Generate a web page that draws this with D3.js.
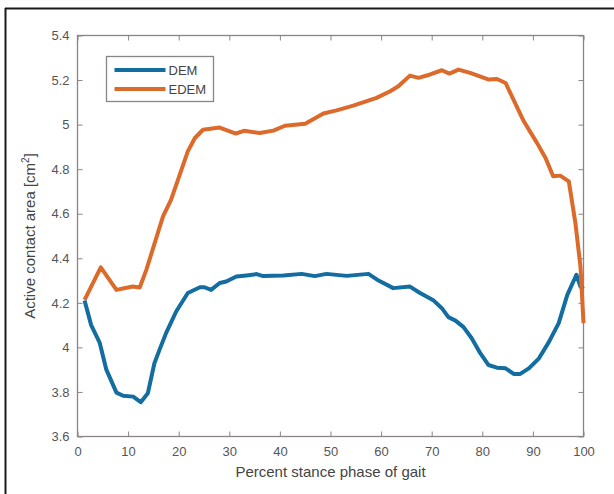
<!DOCTYPE html>
<html>
<head>
<meta charset="utf-8">
<script src="https://cdn.jsdelivr.net/npm/d3@7"></script>
<style>
  body { margin: 0; background: #fff; }
  svg text { font-family: "Liberation Sans", Arial, sans-serif; }
</style>
</head>
<body>
<div id="my_dataviz"></div>
<script>
// data
var demX  = [1.4, 2.7, 4.4, 5.7, 7.7, 9, 11, 12.5, 13.9, 15.2, 16.2, 17.5, 19.5, 21.8, 24.2, 25.1, 26.4, 28.1, 29.4, 31.4, 33.4, 35.4, 36.7, 40.7, 44.3, 46.9, 49.2, 53.2, 57.5, 59.5, 62.4, 65.7, 67.7, 70.4, 72, 73.3, 74.7, 76.3, 77.9, 79.6, 81.2, 82.9, 84.6, 86.2, 87.5, 89.2, 91.2, 93.2, 95.1, 96.8, 98.6, 99.4, 100];
var demY  = [4.21, 4.10, 4.02, 3.90, 3.797, 3.783, 3.779, 3.754, 3.794, 3.929, 3.989, 4.064, 4.161, 4.244, 4.27, 4.27, 4.258, 4.289, 4.296, 4.318, 4.323, 4.329, 4.32, 4.323, 4.33, 4.32, 4.33, 4.321, 4.33, 4.30, 4.266, 4.273, 4.244, 4.21, 4.176, 4.136, 4.12, 4.091, 4.041, 3.974, 3.921, 3.909, 3.906, 3.881, 3.881, 3.906, 3.951, 4.026, 4.109, 4.236, 4.326, 4.273, 4.263];
var edemX = [1.4, 4.6, 7.7, 10.9, 12.3, 13.6, 16.9, 18.5, 21.8, 23.2, 24.8, 28.1, 31.3, 32.9, 36, 38.7, 41, 45, 48.6, 51.2, 54.5, 59.1, 61.8, 63.4, 65.7, 67.4, 69.7, 72, 73.5, 75.3, 77.6, 81.3, 82.9, 84.6, 88.2, 90.8, 92.5, 94, 95.4, 97.1, 98.4, 99.4, 100];
var edemY = [4.213, 4.359, 4.258, 4.273, 4.269, 4.348, 4.588, 4.663, 4.88, 4.94, 4.977, 4.987, 4.96, 4.972, 4.962, 4.973, 4.995, 5.004, 5.05, 5.064, 5.085, 5.12, 5.15, 5.172, 5.22, 5.21, 5.225, 5.244, 5.229, 5.247, 5.232, 5.202, 5.205, 5.187, 5.015, 4.918, 4.85, 4.768, 4.771, 4.745, 4.558, 4.363, 4.109];
var seriesNames = ["DEM", "EDEM"];
var xTicks = [0, 10, 20, 30, 40, 50, 60, 70, 80, 90, 100];
var yTicks = [3.6, 3.8, 4, 4.2, 4.4, 4.6, 4.8, 5, 5.2, 5.4];

var W = 614, H = 494;
var margin = {top: 35.5, right: 30.5, bottom: 57.5, left: 77.5},
    width = W - margin.left - margin.right,
    height = H - margin.top - margin.bottom;

var color = d3.scaleOrdinal().domain(seriesNames).range(["#146da0", "#dc6a2b"]);
var axisColor = "#8a8585";

var root = d3.select("#my_dataviz").append("svg")
    .attr("width", W).attr("height", H);

// figure frame (only left and top edges visible in the crop)
root.append("line").attr("x1", 5.5).attr("x2", 5.5).attr("y1", 8).attr("y2", H)
    .style("stroke", "#1a1a1a").style("stroke-width", 2);
root.append("line").attr("x1", 5).attr("x2", W).attr("y1", 8.5).attr("y2", 8.5)
    .style("stroke", "#1a1a1a").style("stroke-width", 2);

var svg = root.append("g")
    .attr("transform", "translate(" + margin.left + "," + margin.top + ")");

var x = d3.scaleLinear().domain([0, 100]).range([0, width]);
var y = d3.scaleLinear().domain([3.6, 5.4]).range([height, 0]);

// axes, MATLAB style: ticks inside, box on
function styleAxis(g, labels) {
    g.select(".domain").remove();
    g.selectAll(".tick line").style("stroke", axisColor);
    if (labels) {
        g.selectAll(".tick text").style("fill", "#555").style("font-size", "13px");
    } else {
        g.selectAll(".tick text").remove();
    }
}
svg.append("g").attr("transform", "translate(0," + height + ")")
    .call(d3.axisBottom(x).tickValues(xTicks).tickSize(-5).tickPadding(10))
    .call(function(g) { styleAxis(g, true); });
svg.append("g")
    .call(d3.axisTop(x).tickValues(xTicks).tickSize(-5))
    .call(function(g) { styleAxis(g, false); });
svg.append("g")
    .call(d3.axisLeft(y).tickValues(yTicks).tickSize(-5).tickPadding(8).tickFormat(d3.format("")))
    .call(function(g) { styleAxis(g, true); });
svg.append("g").attr("transform", "translate(" + width + ",0)")
    .call(d3.axisRight(y).tickValues(yTicks).tickSize(-5))
    .call(function(g) { styleAxis(g, false); });

svg.append("rect").attr("width", width).attr("height", height)
    .style("fill", "none").style("stroke", axisColor).style("stroke-width", 1.3);

// lines
var line = d3.line().x(function(d) { return x(d[0]); }).y(function(d) { return y(d[1]); });
var series = [
    {name: "DEM",  pts: d3.zip(demX, demY)},
    {name: "EDEM", pts: d3.zip(edemX, edemY)}
];
svg.selectAll("myPath").data(series).enter()
    .append("path")
    .attr("d", function(d) { return line(d.pts); })
    .style("fill", "none")
    .style("stroke", function(d) { return color(d.name); })
    .style("stroke-width", 4)
    .style("stroke-linejoin", "round");

// axis titles
svg.append("text")
    .attr("text-anchor", "middle")
    .attr("x", width / 2)
    .attr("y", height + 40)
    .style("fill", "#444").style("font-size", "15px")
    .text("Percent stance phase of gait");

svg.append("text")
    .attr("text-anchor", "middle")
    .attr("transform", "translate(" + (-43) + "," + (height / 2) + ") rotate(-90)")
    .style("fill", "#444").style("font-size", "15px")
    .text("Active contact area [cm")
    .append("tspan").attr("dy", -6).style("font-size", "10px").text("2")
    .select(function() { return this.parentNode; })
    .append("tspan").attr("dy", 6).text("]");

// legend
var leg = svg.append("g").attr("transform", "translate(" + (106.5 - margin.left) + "," + (56.5 - margin.top) + ")");
leg.append("rect").attr("width", 107).attr("height", 45)
    .style("fill", "#fff").style("stroke", axisColor).style("stroke-width", 1.3);
seriesNames.forEach(function(n, i) {
    var yy = 13.5 + i * 19;
    leg.append("line").attr("x1", 8).attr("x2", 59).attr("y1", yy).attr("y2", yy)
        .style("stroke", color(n)).style("stroke-width", 4);
    leg.append("text").attr("x", 62).attr("y", yy + 5)
        .style("fill", "#444").style("font-size", "13px").text(n);
});
</script>
</body>
</html>
